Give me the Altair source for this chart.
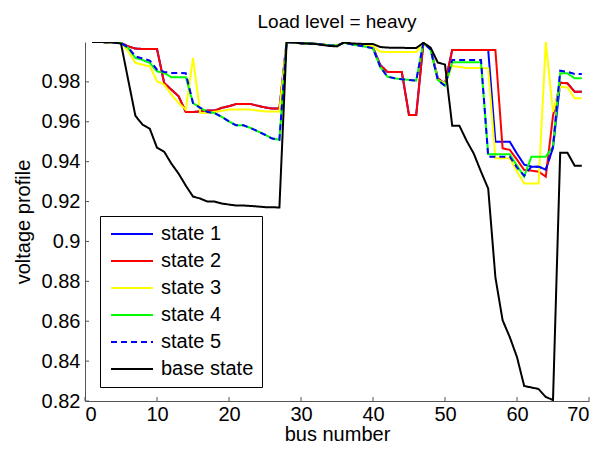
import altair as alt
import pandas as pd

bus = list(range(1, 70))

state2 = [1.0, 1.0, 0.9999, 0.9998, 0.9995, 0.9978, 0.9967, 0.9965, 0.9965, 0.9965,
          0.9794, 0.9761, 0.9728, 0.9649, 0.9649, 0.9652, 0.9656, 0.9656, 0.967, 0.9678,
          0.9689, 0.9689, 0.9689, 0.968, 0.9672, 0.9666, 0.9666,
          0.9999, 0.9998, 0.9994, 0.9993, 0.9991, 0.9987, 0.9983, 0.9982, 0.9997, 0.999,
          0.9984, 0.998, 0.9973, 0.9885, 0.985, 0.985, 0.985, 0.9634, 0.9634, 0.9995,
          0.9966, 0.9818, 0.979, 0.996, 0.996, 0.996, 0.996, 0.996, 0.996, 0.996,
          0.9467, 0.9459, 0.941, 0.9358, 0.9355, 0.935, 0.9325, 0.963, 0.9796, 0.9793,
          0.9751, 0.9751]

state1 = [1.0, 1.0, 0.9999, 0.9998, 0.9995, 0.9978, 0.9967, 0.9965, 0.9965, 0.9965,
          0.9794, 0.9761, 0.9728, 0.9649, 0.9649, 0.9652, 0.9656, 0.9656, 0.967, 0.9678,
          0.9689, 0.9689, 0.9689, 0.968, 0.9672, 0.9666, 0.9666,
          0.9999, 0.9998, 0.9994, 0.9993, 0.9991, 0.9987, 0.9983, 0.9982, 0.9997, 0.999,
          0.9984, 0.998, 0.9973, 0.9885, 0.985, 0.985, 0.985, 0.9634, 0.9634, 0.9995,
          0.9966, 0.9818, 0.979, 0.996, 0.996, 0.996, 0.996, 0.996, 0.996, 0.950,
          0.950, 0.950, 0.944, 0.9385, 0.9375, 0.9375, 0.936, 0.947, 0.9796, 0.9793,
          0.9751, 0.9751]

state3 = [1.0, 1.0, 0.9999, 0.9998, 0.9995, 0.9953, 0.9895, 0.9886, 0.9878, 0.9803,
          0.9786, 0.9736, 0.9694, 0.9661, 0.992, 0.9644, 0.9644, 0.965, 0.9655, 0.9661,
          0.9661, 0.9661, 0.9661, 0.9656, 0.9652, 0.9652, 0.9652,
          0.9999, 0.9998, 0.9994, 0.9993, 0.9991, 0.9987, 0.9984, 0.9983, 0.9998, 0.9992,
          0.9988, 0.9984, 0.998, 0.9951, 0.995, 0.995, 0.995, 0.995, 0.9949, 0.9996,
          0.9968, 0.981, 0.9793, 0.988, 0.9875, 0.987, 0.987, 0.987, 0.9868, 0.9417,
          0.9417, 0.9417, 0.935, 0.929, 0.929, 0.929, 1.0, 0.965, 0.9776, 0.9772,
          0.9718, 0.9718]

state4 = [1.0, 1.0, 0.9999, 0.9998, 0.9995, 0.997, 0.992, 0.991, 0.9895, 0.9853,
          0.9845, 0.9823, 0.9823, 0.9823, 0.9694, 0.967, 0.9649, 0.9644, 0.9624, 0.9602,
          0.9582, 0.9582, 0.9569, 0.9552, 0.9535, 0.9516, 0.951,
          0.9999, 0.9998, 0.9994, 0.9993, 0.9991, 0.9987, 0.9983, 0.9982, 0.9997, 0.9988,
          0.9982, 0.9976, 0.9968, 0.9876, 0.9826, 0.9818, 0.9813, 0.981, 0.9806, 0.9996,
          0.9962, 0.981, 0.978, 0.9898, 0.9898, 0.9898, 0.9898, 0.9898, 0.9437, 0.9437,
          0.9437, 0.9437, 0.938, 0.9325, 0.9425, 0.9425, 0.9425, 0.9475, 0.9843, 0.9843,
          0.9818, 0.9818]

state5 = [1.0, 1.0, 0.9999, 0.9998, 0.9995, 0.9972, 0.9928, 0.9917, 0.9907, 0.9861,
          0.985, 0.9845, 0.9845, 0.9843, 0.9694, 0.967, 0.9649, 0.9644, 0.9624, 0.9602,
          0.9582, 0.9582, 0.9569, 0.9552, 0.9535, 0.9516, 0.951,
          0.9999, 0.9998, 0.9994, 0.9993, 0.9991, 0.9987, 0.9983, 0.9982, 0.9997, 0.9988,
          0.9982, 0.9976, 0.9968, 0.9876, 0.9826, 0.9818, 0.9813, 0.981, 0.9806, 0.9996,
          0.9962, 0.981, 0.978, 0.991, 0.991, 0.991, 0.991, 0.991, 0.9425, 0.9425,
          0.9425, 0.9425, 0.937, 0.933, 0.9375, 0.9375, 0.936, 0.9475, 0.9856, 0.985,
          0.984, 0.984]

base = [1.0, 1.0, 0.9999, 0.9998, 0.9992, 0.981, 0.963, 0.9585, 0.9565, 0.947,
        0.945, 0.939, 0.934, 0.928, 0.9225, 0.9215, 0.920, 0.920, 0.919, 0.9185,
        0.918, 0.918, 0.9178, 0.9175, 0.9172, 0.9172, 0.917,
        0.9999, 0.9998, 0.9993, 0.9992, 0.999, 0.9985, 0.998, 0.9978, 0.9998, 0.9993,
        0.9991, 0.999, 0.999, 0.9975, 0.9972, 0.9971, 0.9971, 0.997, 0.997, 0.9996,
        0.9972, 0.9897, 0.9887, 0.958, 0.958, 0.9505, 0.944, 0.935, 0.9265, 0.882,
        0.8605, 0.852, 0.842, 0.8275, 0.8268, 0.826, 0.822, 0.8205, 0.9445, 0.9445,
        0.938, 0.938]

names = ["state 1", "state 2", "state 3", "state 4", "state 5", "base state"]
series = [state1, state2, state3, state4, state5, base]
colors = ["#0000FF", "#FF0000", "#FFFF00", "#00FF00", "#0000FF", "#000000"]
dashes = [[1, 0], [1, 0], [1, 0], [1, 0], [6, 4], [1, 0]]

x_ticks = [0, 10, 20, 30, 40, 50, 60, 70]
y_ticks = [0.82, 0.84, 0.86, 0.88, 0.90, 0.92, 0.94, 0.96, 0.98]

rows = []
for name, vals in zip(names, series):
    for b, v in zip(bus, vals):
        rows.append({"bus": b, "v": v, "series": name})
df = pd.DataFrame(rows)

FONT = "Liberation Sans"
AX = "#555555"

xscale = alt.Scale(domain=[0, 70], nice=False, zero=False)
yscale = alt.Scale(domain=[0.82, 1.0], nice=False, zero=False)
cscale = alt.Scale(domain=names, range=colors)
dscale = alt.Scale(domain=names, range=dashes)

legend = alt.Legend(
    title=None, orient="none", legendX=15, legendY=174,
    fillColor="white", strokeColor="black", padding=8, cornerRadius=0,
    labelFont=FONT, labelFontSize=20, labelColor="black",
    symbolType="M-1,0L5,0", symbolSize=196, symbolStrokeWidth=2,
    labelOffset=33, rowPadding=7, symbolLimit=0,
)

xaxis = alt.Axis(values=x_ticks, format="d", title="bus number", tickSize=0,
                 labelPadding=3, titlePadding=0, grid=False)
yaxis = alt.Axis(values=y_ticks, format=".2~f", title="voltage profile", tickSize=0,
                 labelPadding=5, titlePadding=8, grid=False)

layers = []
for name in names:
    layers.append(
        alt.Chart(df).transform_filter(alt.datum.series == name)
        .mark_line(strokeWidth=2, clip=True).encode(
            x=alt.X("bus:Q", scale=xscale, axis=xaxis),
            y=alt.Y("v:Q", scale=yscale, axis=yaxis),
            color=alt.Color("series:N", scale=cscale, legend=legend),
            strokeDash=alt.StrokeDash("series:N", scale=dscale, legend=legend),
        )
    )

xt = pd.DataFrame({"bus": x_ticks})
yt = pd.DataFrame({"v": y_ticks})
xtick_layer = alt.Chart(xt).mark_rule(color=AX, strokeWidth=1).encode(
    x=alt.X("bus:Q", scale=xscale, axis=xaxis), y=alt.value(359), y2=alt.value(355))
ytick_layer = alt.Chart(yt).mark_rule(color=AX, strokeWidth=1).encode(
    y=alt.Y("v:Q", scale=yscale, axis=yaxis), x=alt.value(0), x2=alt.value(4))

chart = alt.layer(*layers, xtick_layer, ytick_layer).properties(
    width=504, height=359,
    title=alt.TitleParams("Load level = heavy", font=FONT, fontSize=19,
                          fontWeight="normal", color="black", anchor="middle", offset=10),
    autosize=alt.AutoSizeParams(type="none"),
    padding={"left": 77, "top": 34, "right": 5, "bottom": 43},
    background="white",
).configure_view(stroke=None).configure_axis(
    labelFont=FONT, labelFontSize=20, labelColor="black",
    titleFont=FONT, titleFontSize=20, titleFontWeight="normal", titleColor="black",
    domainColor=AX, domainWidth=1,
)

chart.save("out.html", embed_options={"renderer": "svg", "actions": False})
